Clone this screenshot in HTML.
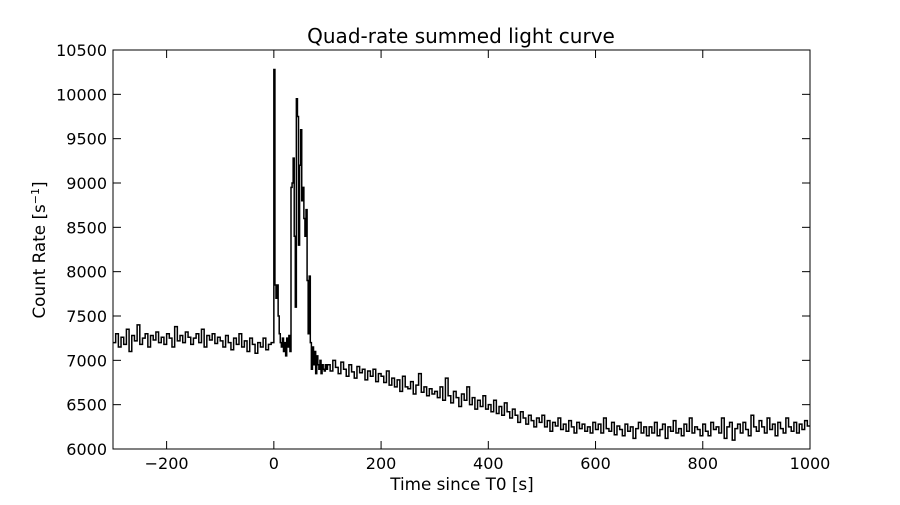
<!DOCTYPE html>
<html><head><meta charset="utf-8"><style>
body{margin:0;background:#fff;}
svg text{font-family:"DejaVu Sans","Liberation Sans",sans-serif;}
</style></head><body>
<svg id="chart" width="900" height="500" xmlns="http://www.w3.org/2000/svg">
<rect width="900" height="500" fill="#fff"/>
<text x="461" y="43" font-size="20" text-anchor="middle">Quad-rate summed light curve</text>
<text x="462" y="490" font-size="16.8" text-anchor="middle">Time since T0 [s]</text>
<text transform="translate(45,250) rotate(-90)" font-size="16.8" text-anchor="middle">Count Rate [s<tspan dy="-6" font-size="11">−1</tspan><tspan dy="6">]</tspan></text>
<g id="plot"></g>
</svg>
<script>
const xTicks=[-200,0,200,400,600,800,1000];
const yTicks=[6000,6500,7000,7500,8000,8500,9000,9500,10000,10500];
const preCounts=[7200,7300,7150,7260,7180,7350,7100,7280,7220,7400,7180,7250,7300,7150,7280,7230,7320,7200,7260,7180,7300,7250,7150,7380,7220,7280,7200,7320,7260,7180,7250,7300,7200,7350,7150,7280,7230,7300,7190,7260,7220,7150,7280,7200,7120,7250,7180,7300,7150,7220,7100,7250,7180,7080,7200,7150,7250,7120,7180,7200];
const burstCounts=[10280,7850,7700,7850,7500,7300,7200,7150,7250,7100,7200,7050,7250,7150,7280,7100,8950,9000,9280,8400,7600,9950,9750,8300,9200,9600,8800,8950,8600,8400,8700,7900,7300,7950,7200,6900,7150,6950,7100,6850,7050,6950,6900,7000,6850,6950,6900,6880,6950,6900];
const postCounts=[6950,6880,7000,6920,6850,6980,6900,6820,6950,6870,6800,6930,6860,6900,6780,6880,6820,6900,6760,6850,
6820,6750,6880,6720,6800,6700,6780,6650,6820,6700,6680,6760,6620,6720,6850,6640,6700,6600,6680,6620,
6650,6580,6700,6550,6800,6600,6520,6650,6580,6480,6620,6550,6700,6500,6580,6450,6550,6480,6600,6450,
6500,6420,6550,6400,6480,6380,6520,6420,6350,6450,6380,6300,6420,6350,6280,6380,6320,6250,6350,6300,
6380,6250,6320,6200,6300,6260,6350,6220,6280,6200,6320,6250,6180,6300,6230,6280,6200,6250,6180,6300,
6220,6280,6180,6350,6230,6200,6300,6160,6260,6220,6150,6280,6200,6250,6120,6230,6300,6180,6250,6150,
6250,6180,6300,6150,6220,6280,6120,6250,6200,6320,6180,6230,6150,6280,6200,6350,6180,6250,6220,6150,
6280,6200,6150,6300,6220,6250,6180,6350,6120,6250,6300,6100,6230,6280,6180,6300,6220,6150,6380,6250,
6200,6320,6250,6180,6350,6220,6280,6150,6300,6230,6180,6350,6250,6200,6300,6180,6280,6220,6320,6260];
const L=113,R=810,T=50,B=449,xmin=-300,xmax=1000,ymin=6000,ymax=10500;
const sx=t=>L+(t-xmin)*(R-L)/(xmax-xmin);
const sy=v=>B-(v-ymin)*(B-T)/(ymax-ymin);
const NS="http://www.w3.org/2000/svg";
const g=document.getElementById('plot');
function mk(tag,attrs){const e=document.createElementNS(NS,tag);for(const k in attrs)e.setAttribute(k,attrs[k]);g.appendChild(e);return e;}
const bins=[];
preCounts.forEach((v,i)=>bins.push([-300+i*5,5,v]));
burstCounts.forEach((v,i)=>bins.push([i*2,2,v]));
postCounts.forEach((v,i)=>bins.push([100+i*5,5,v]));
let d='';
bins.forEach((b,i)=>{const x0=sx(b[0]),x1=sx(b[0]+b[1]),y=sy(b[2]);d+=(i?'L':'M')+x0.toFixed(2)+','+y.toFixed(2)+'L'+x1.toFixed(2)+','+y.toFixed(2);});
const cp=mk('clipPath',{id:'cp'});const cr=document.createElementNS(NS,'rect');cr.setAttribute('x',L);cr.setAttribute('y',T);cr.setAttribute('width',R-L);cr.setAttribute('height',B-T);cp.appendChild(cr);
const line=mk('path',{d:d,fill:'none',stroke:'#000','stroke-width':1.5,'clip-path':'url(#cp)'});


const frame=mk('rect',{x:L,y:T,width:R-L,height:B-T,fill:'none',stroke:'#000','stroke-width':1});


xTicks.forEach(t=>{const x=sx(t);
mk('line',{x1:x,x2:x,y1:B,y2:B-8,stroke:'#000'});mk('line',{x1:x,x2:x,y1:T,y2:T+8,stroke:'#000'});
const tx=mk('text',{x:x,y:B+20,'font-size':16,'text-anchor':'middle'});tx.textContent=t<0?'−'+(-t):t;

});
yTicks.forEach(v=>{const y=sy(v);
mk('line',{x1:L,x2:L+8,y1:y,y2:y,stroke:'#000'});mk('line',{x1:R,x2:R-8,y1:y,y2:y,stroke:'#000'});
const tx=mk('text',{x:L-6,y:y+6,'font-size':16,'text-anchor':'end'});tx.textContent=v;

});
</script>
</body></html>
